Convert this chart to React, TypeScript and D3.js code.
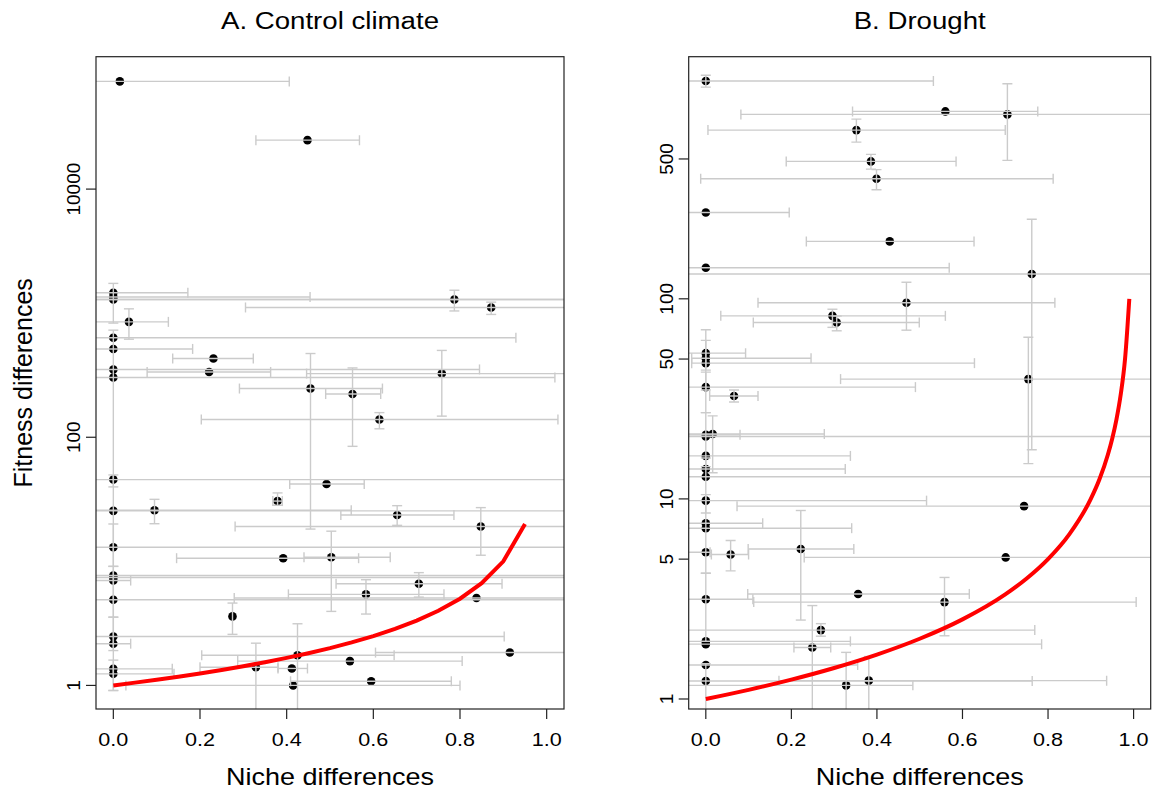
import React, { useEffect, useRef } from 'react';
import * as d3 from 'd3';

// A. Control climate
const ctlNiche = [0.015, 0.448, 0, 0, 0, 0.787, 0.872, 0.036, 0, 0, 0.231, 0, 0, 0.221, 0.758, 0.455, 0.552, 0.614, 0, 0.492, 0.379, 0, 0.095, 0.655, 0.848, 0, 0.392, 0.503, 0, 0, 0, 0.705, 0.583, 0, 0.838, 0.275, 0, 0, 0.425, 0.915, 0.546, 0.329, 0.412, 0, 0, 0.595, 0.415];
const ctlFitness = [73800, 24800, 1460, 1350, 1290, 1290, 1112, 851, 634, 515, 431, 352, 303, 336, 326, 247, 223, 139, 45.6, 42, 30.6, 25.5, 25.8, 23.6, 19.1, 13.0, 10.6, 10.8, 7.7, 7.4, 7.0, 6.6, 5.42, 4.9, 5.06, 3.6, 2.48, 2.17, 1.75, 1.84, 1.57, 1.4, 1.37, 1.36, 1.24, 1.08, 1.0];
const ctlNicheLo = [-0.3, 0.329, -0.1, -0.2, -0.3, -0.2, 0.305, -0.1, -0.2, -0.1, 0.137, -0.2, -0.3, 0.078, 0.446, 0.291, 0.49, 0.203, -0.3, 0.407, 0.368, -0.3, -0.2, 0.525, 0.281, -0.3, 0.146, 0.44, -0.3, -0.3, -0.1, 0.514, 0.404, -0.3, 0.279, null, -0.2, -0.1, 0.204, 0.605, 0.287, 0.2, 0.38, -0.1, -0.1, 0.409, 0.029];
const ctlNicheHi = [0.406, 0.568, 0.172, 0.454, 1.3, 1.3, 1.3, 0.127, 0.929, 0.183, 0.323, 0.845, 1.019, 0.363, 1.3, 0.621, 0.617, 1.026, 1.3, 0.579, 0.39, 1.3, 0.549, 0.786, 1.3, 1.3, 0.566, 0.639, 1.3, 1.3, 0.04, 0.897, 0.763, 1.3, 1.3, null, 0.902, 0.04, 0.648, 1.3, 0.805, 0.38, 0.448, 0.136, 0.14, 0.78, 0.8];
const ctlFitLo = [null, null, 832, null, null, 1042, 977, 617, null, null, null, 0.91, null, null, 148, 18.2, 84.5, 117, 39.8, null, 28.3, null, 20.1, 19.5, 11.2, 9.1, null, 3.95, null, 3.55, null, 5.15, 3.76, null, null, 2.58, 1.91, null, 0.5, null, null, 0.5, null, null, 0.91, null, null];
const ctlFitHi = [null, null, 1738, null, null, 1531, 1227, 1084, null, null, null, 730, null, null, 501, 473, 362, 158, 49.7, null, 35.6, null, 31.6, 28.1, 27.1, 20, null, 17.5, null, 9.12, null, 8.11, 7.11, null, null, 4.61, 3.55, null, 3.14, null, null, 2.19, null, null, 1.6, null, null];
const ctlCurveNiche = [0, 0.05, 0.1, 0.15, 0.2, 0.25, 0.3, 0.35, 0.4, 0.45, 0.5, 0.55, 0.6, 0.65, 0.7, 0.75, 0.8, 0.85, 0.9, 0.95];
const ctlCurveFitness = [1, 1.053, 1.111, 1.176, 1.25, 1.333, 1.429, 1.538, 1.667, 1.818, 2, 2.222, 2.5, 2.857, 3.333, 4, 5, 6.667, 10, 20];
const ctlTicks = [1, 100, 10000];

// B. Drought
const drNiche = [0, 0.56, 0.705, 0.352, 0.386, 0.399, 0, 0.43, 0, 0.762, 0.469, 0.296, 0.306, 0, 0, 0, 0, 0.066, 0.754, 0, 0.016, 0, 0, 0, 0, 0, 0.744, 0, 0, 0, 0.058, 0.222, 0.701, 0, 0.356, 0.558, 0.269, 0, 0, 0.249, 0, 0, 0.381, 0.328];
const drFitness = [1226, 864, 835, 697, 486, 398, 270, 193.6, 143, 133, 95.5, 82.2, 76.2, 53.5, 50.5, 47.7, 36.2, 32.7, 39.7, 20.9, 21.1, 20.5, 16.4, 14.1, 12.9, 9.8, 9.2, 7.56, 7.14, 5.41, 5.27, 5.62, 5.1, 3.15, 3.35, 3.05, 2.21, 1.94, 1.88, 1.81, 1.48, 1.23, 1.235, 1.17];
const drNicheLo = [-0.2, 0.343, 0.082, 0.005, 0.188, -0.012, -0.2, 0.235, -0.2, -0.3, 0.122, 0.035, 0.111, -0.2, -0.033, -0.033, -0.2, 0.009, 0.315, -0.2, -0.1, -0.3, -0.2, -0.2, -0.3, -0.2, 0.073, -0.2, -0.2, -0.1, 0.013, 0.099, 0.23, -0.2, 0.098, 0.112, -0.2, -0.2, -0.2, 0.206, -0.2, -0.2, 0.171, -0.3];
const drNicheHi = [0.532, 0.776, 1.3, 0.7, 0.585, 0.812, 0.195, 0.627, 0.569, 1.3, 0.816, 0.56, 0.499, 0.093, 0.246, 0.628, 0.49, 0.122, 1.3, 0.08, 0.277, 1.3, 0.338, 0.326, 1.3, 0.516, 1.3, 0.133, 0.341, 0.01, 0.1, 0.346, 1.3, 0.11, 0.616, 1.006, 0.769, 0.338, 0.785, 0.292, 0.355, 0.763, 0.937, 0.484];
const drFitLo = [1143, null, 492, 607, 445, 351, null, null, null, 17.6, 69.7, 72, 69.2, 35, 44, null, 27, 30.5, 15, 14.5, 13.5, null, null, null, 8.5, null, null, null, 4.25, null, 4.37, 2.48, null, 1.94, null, 2.07, 2.06, null, null, 0.5, null, 0.8, 0.5, 0.5];
const drFitHi = [1309, null, 1189, 791, 527, 442, null, null, null, 250, 121, 88.7, 82, 70, 62, null, 43, 35, 64.3, 27, 26, null, null, null, 16, null, null, null, 10.5, null, 6.2, 8.75, null, 4.25, null, 4.05, 2.38, null, null, 2.93, null, 1.5, 1.63, 1.71];
const drCurveNiche = [0, 0.1, 0.2, 0.3, 0.4, 0.5, 0.6, 0.7, 0.75, 0.8, 0.85, 0.9, 0.92, 0.94, 0.95, 0.96, 0.97, 0.98, 0.99];
const drCurveFitness = [1, 1.111, 1.25, 1.429, 1.667, 2, 2.5, 3.333, 4, 5, 6.667, 10, 12.5, 16.67, 20, 25, 33.33, 50, 100];
const drTicks = [1, 5, 10, 50, 100, 500];

const xTicks = [0, 0.2, 0.4, 0.6, 0.8, 1.0];

const FONT = "'Liberation Sans', Arial, Helvetica, sans-serif";
const top = 56.7,
  bottom = 709;

function drawPanel(svg, p) {
  const x = d3.scaleLinear().domain([-0.04, 1.04]).range([p.left, p.right]);
  const y = d3.scaleLog().domain(p.yDomain).range([bottom, top]);
  const g = svg.append('g');

  g.append('clipPath')
    .attr('id', p.id)
    .append('rect')
    .attr('x', p.left)
    .attr('y', top)
    .attr('width', p.right - p.left)
    .attr('height', bottom - top);

  const plot = g.append('g').attr('clip-path', `url(#${p.id})`);

  // points first, error bars drawn over them
  p.niche.forEach((n, i) => {
    plot.append('circle')
      .attr('cx', x(n))
      .attr('cy', y(p.fitness[i]))
      .attr('r', 4.3)
      .attr('fill', '#000');
  });

  const bars = plot.append('g').attr('stroke', '#cbcbcb').attr('stroke-width', 1.4).attr('fill', 'none');
  const cap = 5;
  p.niche.forEach((n, i) => {
    const cy = y(p.fitness[i]);
    const cx = x(n);
    if (p.nicheLo[i] != null) {
      const x0 = x(p.nicheLo[i]),
        x1 = x(p.nicheHi[i]);
      bars.append('line').attr('x1', x0).attr('x2', x1).attr('y1', cy).attr('y2', cy);
      [x0, x1].forEach((xx) =>
        bars.append('line').attr('x1', xx).attr('x2', xx).attr('y1', cy - cap).attr('y2', cy + cap)
      );
    }
    if (p.fitLo[i] != null) {
      const y0 = y(p.fitLo[i]),
        y1 = y(p.fitHi[i]);
      bars.append('line').attr('x1', cx).attr('x2', cx).attr('y1', y0).attr('y2', y1);
      [y0, y1].forEach((yy) =>
        bars.append('line').attr('x1', cx - cap).attr('x2', cx + cap).attr('y1', yy).attr('y2', yy)
      );
    }
  });

  const line = d3
    .line()
    .curve(p.smooth ? d3.curveMonotoneX : d3.curveLinear)
    .x((d) => x(d[0]))
    .y((d) => y(d[1]));
  plot.append('path')
    .datum(p.curveNiche.map((c, i) => [c, p.curveFitness[i]]))
    .attr('fill', 'none')
    .attr('stroke', '#ff0000')
    .attr('stroke-width', 4)
    .attr('d', line);

  // box
  g.append('rect')
    .attr('x', p.left)
    .attr('y', top)
    .attr('width', p.right - p.left)
    .attr('height', bottom - top)
    .attr('fill', 'none')
    .attr('stroke', '#222')
    .attr('stroke-width', 1.2);

  // x ticks
  xTicks.forEach((t) => {
    g.append('line')
      .attr('x1', x(t)).attr('x2', x(t))
      .attr('y1', bottom).attr('y2', bottom + 10)
      .attr('stroke', '#222').attr('stroke-width', 1.2);
    g.append('text')
      .attr('x', x(t))
      .attr('y', 746)
      .attr('text-anchor', 'middle')
      .attr('font-family', FONT)
      .attr('font-size', 19)
      .attr('textLength', 30)
      .attr('lengthAdjust', 'spacingAndGlyphs')
      .text(t.toFixed(1));
  });

  // y ticks
  p.ticks.forEach((t) => {
    g.append('line')
      .attr('x1', p.left - 10).attr('x2', p.left)
      .attr('y1', y(t)).attr('y2', y(t))
      .attr('stroke', '#222').attr('stroke-width', 1.2);
    g.append('text')
      .attr('transform', `translate(${p.left - 16},${y(t)}) rotate(-90)`)
      .attr('text-anchor', 'middle')
      .attr('font-family', FONT)
      .attr('font-size', 19)
      .text(String(t));
  });

  g.append('text')
    .attr('x', (p.left + p.right) / 2)
    .attr('y', 29)
    .attr('text-anchor', 'middle')
    .attr('font-family', FONT)
    .attr('font-size', 23)
    .attr('textLength', p.titleWidth)
    .attr('lengthAdjust', 'spacingAndGlyphs')
    .text(p.title);

  g.append('text')
    .attr('x', (p.left + p.right) / 2)
    .attr('y', 785)
    .attr('text-anchor', 'middle')
    .attr('font-family', FONT)
    .attr('font-size', 24)
    .attr('textLength', 208)
    .attr('lengthAdjust', 'spacingAndGlyphs')
    .text('Niche differences');

  if (p.yLabel) {
    g.append('text')
      .attr('transform', `translate(31.5,${(top + bottom) / 2}) rotate(-90)`)
      .attr('text-anchor', 'middle')
      .attr('font-family', FONT)
      .attr('font-size', 25)
      .text(p.yLabel);
  }
}

export default function App() {
  const ref = useRef(null);

  useEffect(() => {
    const svg = d3.select(ref.current);
    svg.selectAll('*').remove();
    drawPanel(svg, {
      id: 'clipA',
      left: 96,
      right: 564,
      yDomain: [Math.pow(10, -0.19), Math.pow(10, 5.067)],
      niche: ctlNiche,
      fitness: ctlFitness,
      nicheLo: ctlNicheLo,
      nicheHi: ctlNicheHi,
      fitLo: ctlFitLo,
      fitHi: ctlFitHi,
      curveNiche: ctlCurveNiche,
      curveFitness: ctlCurveFitness,
      smooth: false,
      ticks: ctlTicks,
      title: 'A. Control climate',
      titleWidth: 218,
      yLabel: 'Fitness differences',
    });
    drawPanel(svg, {
      id: 'clipB',
      left: 688.7,
      right: 1150.7,
      yDomain: [Math.pow(10, -0.05), Math.pow(10, 3.21)],
      niche: drNiche,
      fitness: drFitness,
      nicheLo: drNicheLo,
      nicheHi: drNicheHi,
      fitLo: drFitLo,
      fitHi: drFitHi,
      curveNiche: drCurveNiche,
      curveFitness: drCurveFitness,
      smooth: true,
      ticks: drTicks,
      title: 'B. Drought',
      titleWidth: 132,
      yLabel: null,
    });
  }, []);

  return (
    <svg
      ref={ref}
      width={1159}
      height={794}
      viewBox="0 0 1159 794"
      style={{ position: 'absolute', left: 0, top: 0, background: '#fff' }}
    />
  );
}
